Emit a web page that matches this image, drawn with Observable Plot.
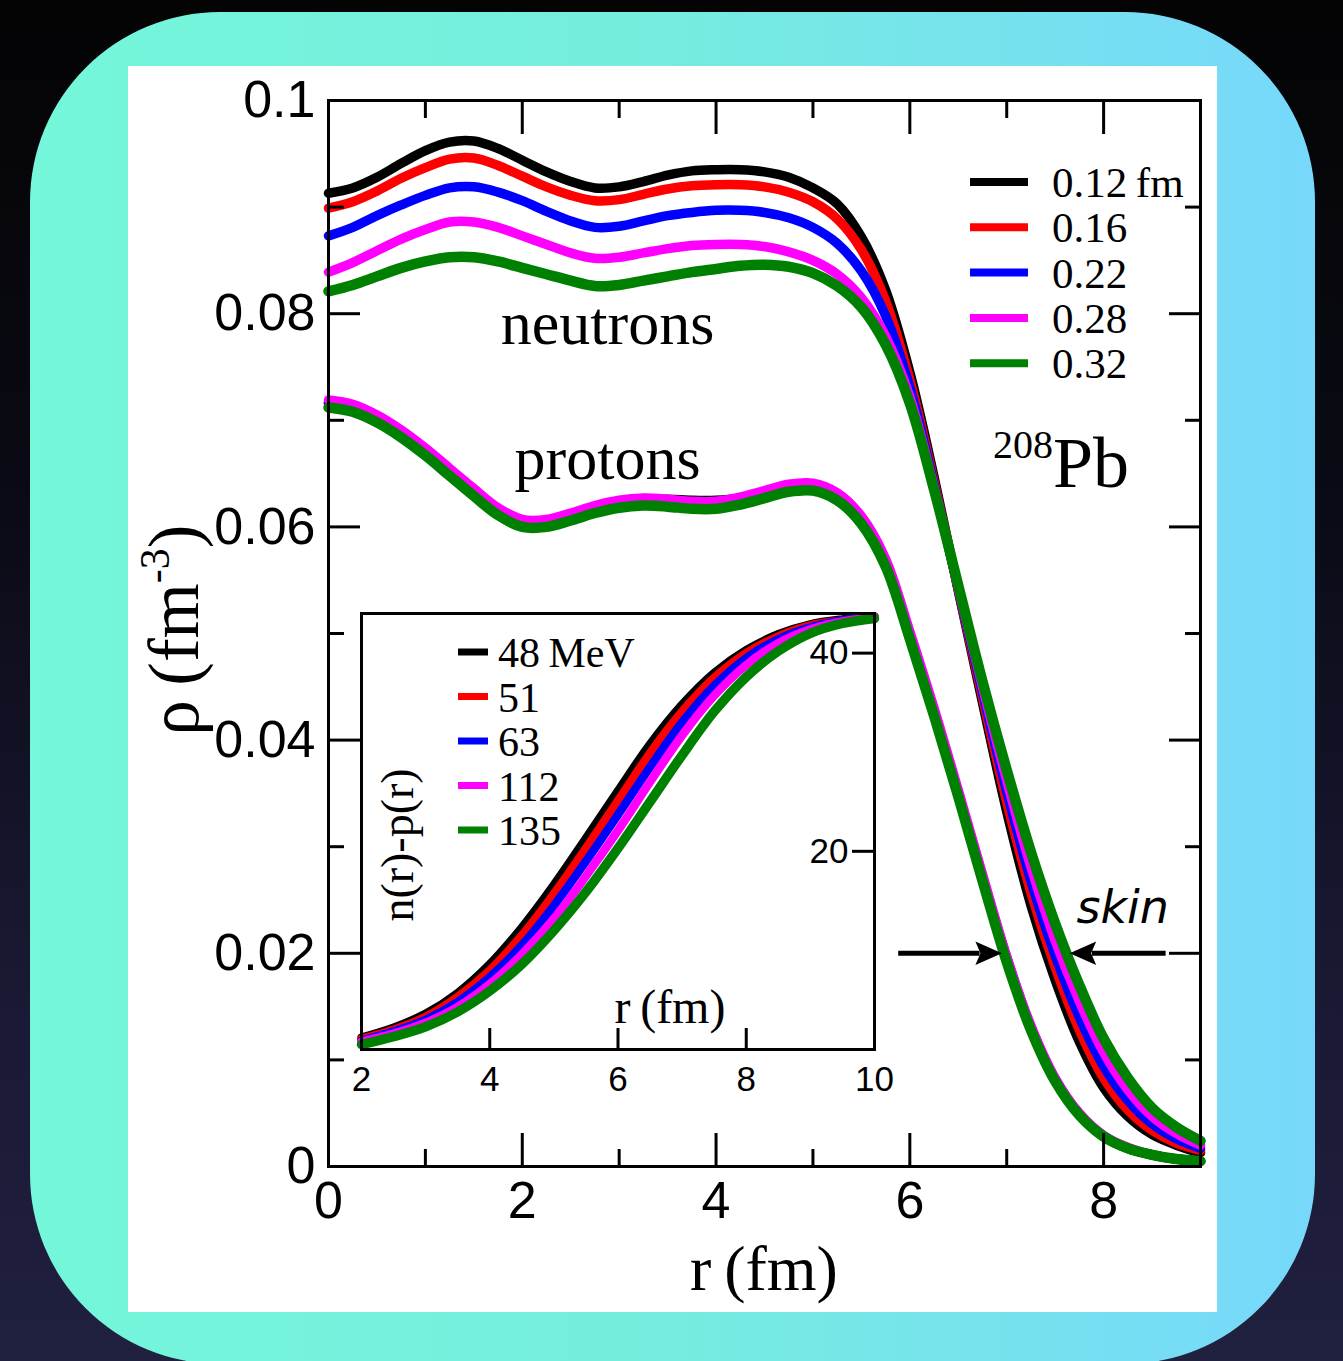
<!DOCTYPE html>
<html>
<head>
<meta charset="utf-8">
<script src="https://cdn.jsdelivr.net/npm/d3@7"></script>
<script src="https://cdn.jsdelivr.net/npm/@observablehq/plot@0.6"></script>
<style>
  html, body { margin: 0; padding: 0; }
  body {
    width: 1343px; height: 1361px; overflow: hidden; position: relative;
    background: linear-gradient(180deg, #040405 0%, #0a0a14 35%, #1a1a36 75%, #20203f 100%);
  }
  #card {
    position: absolute; left: 30px; top: 12px; width: 1285px; height: 1352px;
    border-radius: 190px;
    background: linear-gradient(90deg, #74f7da 0%, #75ecdf 50%, #77d8fb 100%);
  }
  #panel { position: absolute; left: 128px; top: 66px; width: 1089px; height: 1246px; background: #fff; }
  #main { position: absolute; left: 128px; top: 66px; }
  #inset { position: absolute; left: 340px; top: 600px; }
  #overlay { position: absolute; left: 0; top: 0; pointer-events: none; }
  svg { overflow: visible; }
</style>
</head>
<body>
<div id="card"></div>
<div id="panel"></div>
<div id="main"></div>
<div id="inset"></div>
<svg id="overlay" width="1343" height="1361"></svg>
<script>
// ---------- data ----------
const rGrid = [0, 0.25, 0.5, 0.75, 1, 1.25, 1.5, 1.75, 2, 2.25, 2.5, 2.75, 3, 3.25, 3.5, 3.75, 4, 4.25, 4.5, 4.75, 5, 5.25, 5.5, 5.75, 6, 6.25, 6.5, 6.75, 7, 7.25, 7.5, 7.75, 8, 8.25, 8.5, 8.75, 9];

const thicknessLabels = ["0.12\u2009fm", "0.16", "0.22", "0.28", "0.32"];
const energyLabels = ["48\u2009MeV", "51", "63", "112", "135"];
const seriesColors = ["#000000", "#ff0000", "#0000ff", "#ff00ff", "#008000"];

// neutron densities (fm^-3)
const neutron012 = [0.0913, 0.0918, 0.0928, 0.0941, 0.0953, 0.0961, 0.0962, 0.0955, 0.0944, 0.0933, 0.0924, 0.0918, 0.0919, 0.0924, 0.0930, 0.0934, 0.0935, 0.0935, 0.0933, 0.0928, 0.0918, 0.0903, 0.0872, 0.0822, 0.0745, 0.0647, 0.0540, 0.0435, 0.0333, 0.0245, 0.0175, 0.0117, 0.0074, 0.0047, 0.0030, 0.0020, 0.0013];
const neutron016 = [0.0899, 0.0905, 0.0915, 0.0927, 0.0937, 0.0945, 0.0946, 0.0939, 0.0929, 0.0919, 0.0911, 0.0906, 0.0907, 0.0912, 0.0917, 0.0920, 0.0921, 0.0921, 0.0919, 0.0914, 0.0905, 0.0889, 0.0860, 0.0812, 0.0738, 0.0643, 0.0541, 0.0440, 0.0342, 0.0257, 0.0187, 0.0128, 0.0083, 0.0053, 0.0034, 0.0022, 0.0015];
const neutron022 = [0.0873, 0.0881, 0.0892, 0.0902, 0.0911, 0.0918, 0.0919, 0.0914, 0.0906, 0.0896, 0.0887, 0.0881, 0.0882, 0.0887, 0.0892, 0.0895, 0.0897, 0.0897, 0.0895, 0.0890, 0.0881, 0.0866, 0.0840, 0.0798, 0.0731, 0.0640, 0.0542, 0.0445, 0.0352, 0.0268, 0.0198, 0.0140, 0.0094, 0.0062, 0.0040, 0.0026, 0.0017];
const neutron028 = [0.0839, 0.0848, 0.0859, 0.0870, 0.0879, 0.0886, 0.0886, 0.0881, 0.0873, 0.0865, 0.0857, 0.0852, 0.0853, 0.0857, 0.0861, 0.0864, 0.0865, 0.0865, 0.0863, 0.0858, 0.0850, 0.0837, 0.0815, 0.0779, 0.0722, 0.0637, 0.0543, 0.0450, 0.0362, 0.0281, 0.0212, 0.0155, 0.0107, 0.0072, 0.0047, 0.0031, 0.0020];
const neutron032 = [0.0821, 0.0827, 0.0835, 0.0843, 0.0849, 0.0853, 0.0853, 0.0849, 0.0843, 0.0837, 0.0831, 0.0826, 0.0827, 0.0831, 0.0835, 0.0839, 0.0842, 0.0845, 0.0846, 0.0844, 0.0838, 0.0826, 0.0806, 0.0771, 0.0716, 0.0635, 0.0545, 0.0455, 0.0372, 0.0295, 0.0228, 0.0170, 0.0120, 0.0083, 0.0055, 0.0037, 0.0024];

// proton densities (fm^-3)
const proton012 = [0.0716, 0.0712, 0.0702, 0.0688, 0.0671, 0.0652, 0.0633, 0.0615, 0.0604, 0.0604, 0.0610, 0.0617, 0.0622, 0.0625, 0.0626, 0.0625, 0.0625, 0.0627, 0.0632, 0.0637, 0.0638, 0.0629, 0.0607, 0.0567, 0.0499, 0.0427, 0.0350, 0.0271, 0.0195, 0.0130, 0.0081, 0.0049, 0.0028, 0.0017, 0.0011, 0.0007, 0.0005];
const proton016 = [0.0716, 0.0712, 0.0702, 0.0688, 0.0671, 0.0652, 0.0633, 0.0615, 0.0604, 0.0604, 0.0610, 0.0617, 0.0622, 0.0624, 0.0624, 0.0623, 0.0623, 0.0626, 0.0631, 0.0637, 0.0638, 0.0629, 0.0607, 0.0567, 0.0499, 0.0427, 0.0350, 0.0271, 0.0195, 0.0130, 0.0081, 0.0049, 0.0028, 0.0017, 0.0011, 0.0007, 0.0005];
const proton022 = [0.0717, 0.0713, 0.0703, 0.0689, 0.0672, 0.0653, 0.0634, 0.0616, 0.0605, 0.0605, 0.0611, 0.0618, 0.0623, 0.0625, 0.0624, 0.0622, 0.0622, 0.0626, 0.0632, 0.0638, 0.0639, 0.0630, 0.0608, 0.0568, 0.0500, 0.0428, 0.0351, 0.0272, 0.0196, 0.0131, 0.0082, 0.0049, 0.0029, 0.0017, 0.0011, 0.0007, 0.0005];
const proton028 = [0.0719, 0.0715, 0.0705, 0.0691, 0.0674, 0.0655, 0.0636, 0.0618, 0.0607, 0.0607, 0.0613, 0.0620, 0.0625, 0.0627, 0.0626, 0.0624, 0.0624, 0.0628, 0.0634, 0.0640, 0.0641, 0.0632, 0.0610, 0.0570, 0.0502, 0.0430, 0.0353, 0.0274, 0.0197, 0.0132, 0.0083, 0.0050, 0.0029, 0.0018, 0.0011, 0.0007, 0.0005];
const proton032 = [0.0712, 0.0708, 0.0698, 0.0684, 0.0667, 0.0648, 0.0629, 0.0611, 0.0600, 0.0600, 0.0606, 0.0613, 0.0618, 0.0620, 0.0619, 0.0617, 0.0617, 0.0621, 0.0627, 0.0633, 0.0634, 0.0625, 0.0603, 0.0563, 0.0495, 0.0423, 0.0347, 0.0268, 0.0192, 0.0128, 0.0080, 0.0048, 0.0028, 0.0017, 0.0011, 0.0007, 0.0005];

// inset: integrated n(r)-p(r)
const insetR = [2, 2.5, 3, 3.5, 4, 4.5, 5, 5.5, 6, 6.5, 7, 7.5, 8, 8.5, 9, 9.5, 10];
const diff48 = [1.2, 2.2, 3.6, 5.7, 8.6, 12.3, 16.6, 21.3, 26.1, 30.8, 34.8, 38.0, 40.3, 41.9, 42.9, 43.4, 43.7];
const diff51 = [1.1, 2.0, 3.3, 5.3, 8.0, 11.5, 15.7, 20.3, 25.1, 29.9, 34.1, 37.5, 40.0, 41.7, 42.8, 43.3, 43.7];
const diff63 = [0.9, 1.8, 3.0, 4.8, 7.3, 10.5, 14.5, 19.0, 23.7, 28.5, 33.0, 36.7, 39.5, 41.4, 42.6, 43.3, 43.6];
const diff112 = [0.8, 1.6, 2.7, 4.3, 6.6, 9.6, 13.2, 17.5, 22.1, 27.0, 31.7, 35.7, 38.8, 41.0, 42.4, 43.2, 43.6];
const diff135 = [0.5, 1.3, 2.3, 3.8, 5.9, 8.6, 12.0, 15.9, 20.3, 25.0, 29.7, 34.1, 37.6, 40.2, 42.0, 43.0, 43.5];

// axis ticks
const xMajorTicks = [0, 2, 4, 6, 8];
const xMinorTicks = [1, 3, 5, 7];
const yMajorTicks = [0, 0.02, 0.04, 0.06, 0.08, 0.1];
const yMinorTicks = [0.01, 0.03, 0.05, 0.07, 0.09];
const insetXTicks = [4, 6, 8];
const insetXLabels = [2, 4, 6, 8, 10];
const insetYTicks = [20, 40];

// annotations
const bodyLabels = [
  {label: "neutrons", r: 2.88, v: 0.0772},
  {label: "protons", r: 2.88, v: 0.0645}
];
// shaft start and shaft end (the filled head continues beyond the shaft end)
const skinArrows = [
  {r1: 5.88, r2: 6.72, v: 0.02},
  {r1: 8.64, r2: 7.88, v: 0.02}
];
const skinLabel = [{label: "skin", r: 7.72, v: 0.0228}];

// ---------- build ----------
const neutrons = [neutron012, neutron016, neutron022, neutron028, neutron032];
const protons = [proton012, proton016, proton022, proton028, proton032];
const diffs = [diff48, diff51, diff63, diff112, diff135];
const toRows = (xs, vs) => xs.map((r, i) => ({r, v: vs[i]}));

const serif = "'Liberation Serif', 'Times New Roman', serif";
const sans = "'Liberation Sans', Arial, Helvetica, sans-serif";

const curveLines = (sets, xs, widths) => sets.map((vs, i) =>
  Plot.line(toRows(xs, vs), {x: "r", y: "v", stroke: seriesColors[i], strokeWidth: widths[i], curve: "catmull-rom"}));

// filled "stealth" arrow head marker
const stealthHead = (color) => {
  const m = d3.create("svg:marker")
    .attr("viewBox", "-2 -5 10 10")
    .attr("markerUnits", "userSpaceOnUse")
    .attr("markerWidth", 28)
    .attr("markerHeight", 28)
    .attr("orient", "auto")
    .attr("overflow", "visible")
    .attr("fill", color)
    .attr("stroke", "none");
  m.append("path").attr("d", "M-1.5,-4.2L8,0L-1.5,4.2L0.3,0Z");
  return m.node();
};
let skinArrowMark;
try {
  skinArrowMark = Plot.link(skinArrows, {x1: "r1", y1: "v", x2: "r2", y2: "v", stroke: "#000", strokeWidth: 5, markerEnd: stealthHead});
} catch (e) {
  skinArrowMark = Plot.arrow(skinArrows, {x1: "r1", y1: "v", x2: "r2", y2: "v", stroke: "#000", strokeWidth: 5, headLength: 9, headAngle: 70});
}

const mainChart = Plot.plot({
  width: 1089, height: 1246,
  marginLeft: 200, marginRight: 17, marginTop: 34, marginBottom: 146,
  x: {domain: [0, 9], axis: null},
  y: {domain: [0, 0.1], axis: null},
  style: {background: "transparent", overflow: "visible", fontFamily: sans, color: "#000"},
  marks: [
    ...curveLines(neutrons, rGrid, [9.5, 9.5, 9.5, 9.5, 10.5]),
    ...curveLines(protons, rGrid, [9.5, 9.5, 9.5, 9.5, 10.5]),
    Plot.frame({stroke: "#000", strokeWidth: 3}),
    Plot.axisX(xMajorTicks, {anchor: "bottom", tickSize: -33, strokeWidth: 3, fill: "none", label: null}),
    Plot.axisX(xMinorTicks, {anchor: "bottom", tickSize: -17, strokeWidth: 3, fill: "none", label: null}),
    Plot.axisX(xMajorTicks, {anchor: "top", tickSize: -33, strokeWidth: 3, fill: "none", label: null}),
    Plot.axisX(xMinorTicks, {anchor: "top", tickSize: -17, strokeWidth: 3, fill: "none", label: null}),
    Plot.axisY(yMajorTicks, {anchor: "left", tickSize: -32, strokeWidth: 3, fill: "none", label: null}),
    Plot.axisY(yMinorTicks, {anchor: "left", tickSize: -16, strokeWidth: 3, fill: "none", label: null}),
    Plot.axisY(yMajorTicks, {anchor: "right", tickSize: -32, strokeWidth: 3, fill: "none", label: null}),
    Plot.axisY(yMinorTicks, {anchor: "right", tickSize: -16, strokeWidth: 3, fill: "none", label: null}),
    Plot.axisX(xMajorTicks, {anchor: "bottom", tickSize: 0, tickPadding: 15, stroke: "none", fontSize: 52, fontFamily: sans, label: null, tickFormat: d => String(d)}),
    Plot.axisY(yMajorTicks, {anchor: "left", tickSize: 0, tickPadding: 13, stroke: "none", fontSize: 52, fontFamily: sans, label: null, tickFormat: d => String(d)}),
    Plot.text(bodyLabels, {x: "r", y: "v", text: "label", fontSize: 62, fontFamily: serif, lineAnchor: "bottom", fill: "#000"}),
    skinArrowMark,
    Plot.text(skinLabel, {x: "r", y: "v", text: "label", fontSize: 46, fontFamily: "'DejaVu Sans', sans-serif", fontStyle: "italic", textAnchor: "start", lineAnchor: "bottom", fill: "#000"})
  ]
});
document.getElementById("main").appendChild(mainChart);

const insetChart = Plot.plot({
  width: 560, height: 500,
  marginLeft: 21, marginRight: 26, marginTop: 13, marginBottom: 51,
  x: {domain: [2, 10], axis: null},
  y: {domain: [0, 44], axis: null},
  style: {background: "transparent", overflow: "visible", fontFamily: sans, color: "#000"},
  marks: [
    ...curveLines(diffs, insetR, [8.5, 8.5, 8.5, 8.5, 9.5]),
    Plot.frame({stroke: "#000", strokeWidth: 3}),
    Plot.axisX(insetXTicks, {anchor: "bottom", tickSize: -21, strokeWidth: 3, fill: "none", label: null}),
    Plot.axisY(insetYTicks, {anchor: "right", tickSize: -23, strokeWidth: 3, fill: "none", label: null}),
    Plot.axisX(insetXLabels, {anchor: "bottom", tickSize: 0, tickPadding: 17, stroke: "none", fontSize: 35, fontFamily: sans, label: null, tickFormat: d => String(d)}),
    Plot.axisY(insetYTicks, {anchor: "right", tickSize: 0, tickPadding: -26, textAnchor: "end", stroke: "none", fontSize: 35, fontFamily: sans, label: null, tickFormat: d => String(d)})
  ]
});
document.getElementById("inset").appendChild(insetChart);

// ---------- legends & axis titles ----------
const ov = d3.select("#overlay");

// main legend
thicknessLabels.forEach((t, i) => {
  const y = 182 + 45.3 * i;
  ov.append("line").attr("x1", 970).attr("x2", 1028).attr("y1", y).attr("y2", y)
    .attr("stroke", seriesColors[i]).attr("stroke-width", 8);
  ov.append("text").attr("x", 1052).attr("y", y + 15).attr("font-family", serif)
    .attr("font-size", 43).attr("fill", "#000").text(t);
});

// inset legend
energyLabels.forEach((t, i) => {
  const y = 652 + 44.5 * i;
  ov.append("line").attr("x1", 458).attr("x2", 488).attr("y1", y).attr("y2", y)
    .attr("stroke", seriesColors[i]).attr("stroke-width", 7);
  ov.append("text").attr("x", 498).attr("y", y + 15).attr("font-family", serif)
    .attr("font-size", 42).attr("fill", "#000").text(t);
});

// 208Pb
const pb = ov.append("text").attr("x", 993).attr("y", 487).attr("font-family", serif).attr("fill", "#000");
pb.append("tspan").attr("font-size", 40).attr("dy", -29).text("208");
pb.append("tspan").attr("font-size", 72).attr("dy", 29).text("Pb");

// main x title
ov.append("text").attr("x", 764).attr("y", 1290).attr("text-anchor", "middle")
  .attr("font-family", serif).attr("font-size", 64).attr("fill", "#000").text("r\u2009(fm)");

// main y title
const yt = ov.append("text").attr("transform", "translate(198,630) rotate(-90)")
  .attr("text-anchor", "middle").attr("font-family", serif).attr("font-size", 71).attr("fill", "#000");
yt.append("tspan").text("\u03c1\u2009(fm");
yt.append("tspan").attr("font-size", 42).attr("dy", -29).text("-3");
yt.append("tspan").attr("dy", 29).text(")");

// inset titles
ov.append("text").attr("x", 670).attr("y", 1023).attr("text-anchor", "middle")
  .attr("font-family", serif).attr("font-size", 48).attr("fill", "#000").text("r\u2009(fm)");
ov.append("text").attr("transform", "translate(413,845) rotate(-90)").attr("text-anchor", "middle")
  .attr("font-family", serif).attr("font-size", 46).attr("fill", "#000").text("n(r)-p(r)");
</script>
</body>
</html>
